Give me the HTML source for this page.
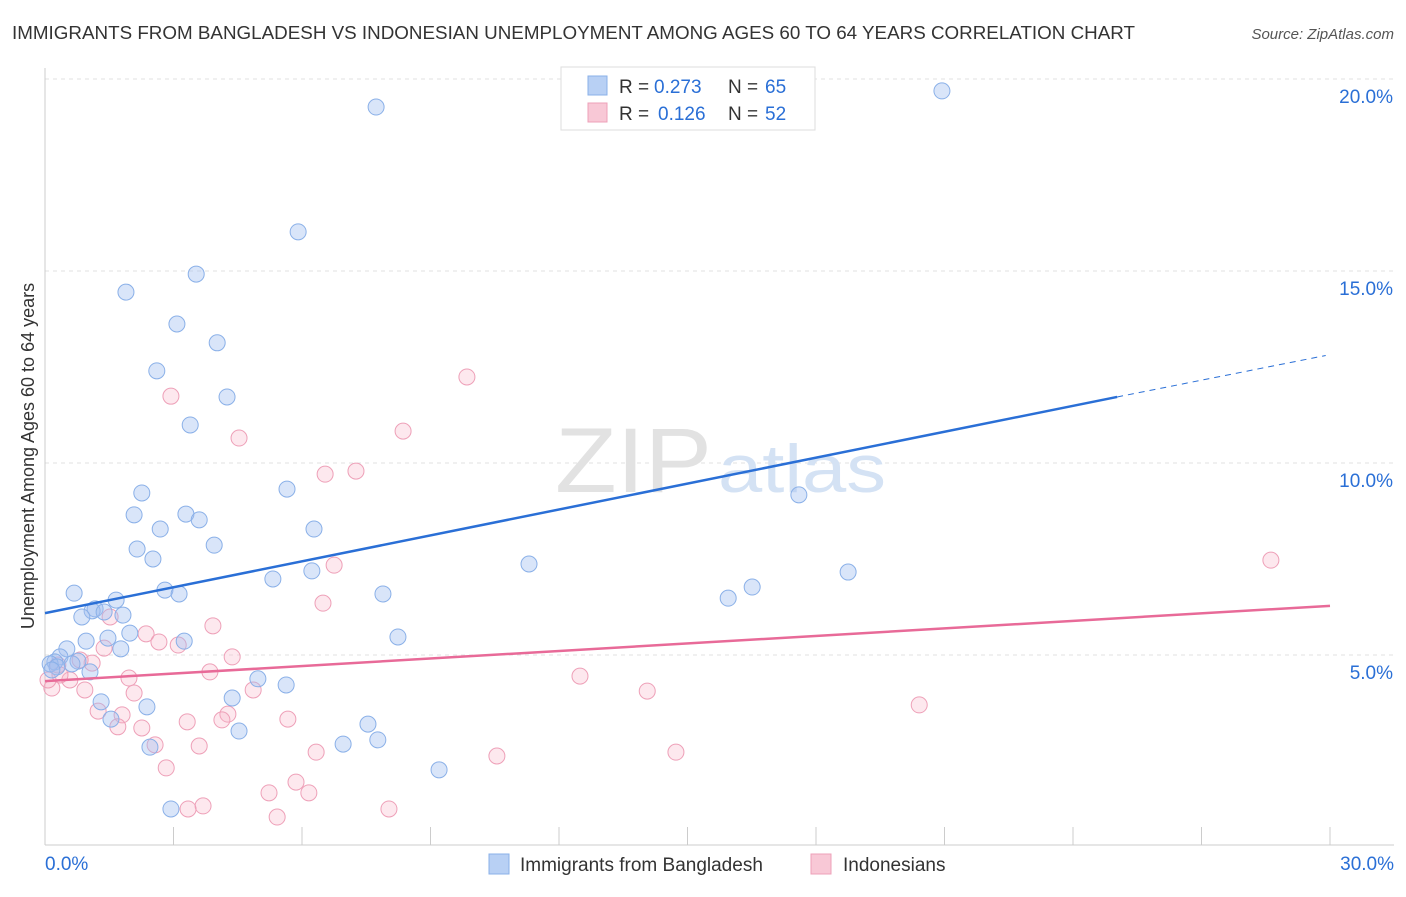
<!DOCTYPE html>
<html><head><meta charset="utf-8">
<style>
body{margin:0;background:#fff;font-family:"Liberation Sans",sans-serif;}
svg text{font-family:"Liberation Sans",sans-serif;}
</style></head>
<body>
<svg id="chart" width="1406" height="892">
<text x="12" y="39" font-size="18" fill="#333" textLength="1123" lengthAdjust="spacingAndGlyphs">IMMIGRANTS FROM BANGLADESH VS INDONESIAN UNEMPLOYMENT AMONG AGES 60 TO 64 YEARS CORRELATION CHART</text>
<text x="1394" y="39" font-size="15" fill="#555" text-anchor="end" font-style="italic">Source: ZipAtlas.com</text>
<g id="grid"></g>
<text x="555" y="492" font-size="92" fill="#e2e2e2" textLength="157" lengthAdjust="spacingAndGlyphs" font-family="Liberation Serif,serif">ZIP</text>
<text x="718" y="492" font-size="68" fill="#d4e2f4" textLength="168" lengthAdjust="spacingAndGlyphs">atlas</text>
<g id="marks"></g>
<text transform="translate(34,456) rotate(-90)" font-size="18" fill="#333" text-anchor="middle">Unemployment Among Ages 60 to 64 years</text>
<g>
<rect x="561" y="67" width="254" height="63" fill="#fff" stroke="#ddd"/>
<rect x="588" y="76" width="19" height="19" fill="#b8d0f4" stroke="#8ab0e8"/>
<rect x="588" y="103" width="19" height="19" fill="#f8c8d6" stroke="#eea0b8"/>
<text x="619" y="93" font-size="19" fill="#333">R =</text>
<text x="654" y="93" font-size="19" fill="#2a6fd6">0.273</text>
<text x="728" y="93" font-size="19" fill="#333">N =</text>
<text x="765" y="93" font-size="19" fill="#2a6fd6">65</text>
<text x="619" y="120" font-size="19" fill="#333">R =</text>
<text x="658" y="120" font-size="19" fill="#2a6fd6">0.126</text>
<text x="728" y="120" font-size="19" fill="#333">N =</text>
<text x="765" y="120" font-size="19" fill="#2a6fd6">52</text>
</g>
<g>
<rect x="489" y="854" width="20" height="20" fill="#b8d0f4" stroke="#8ab0e8"/>
<text x="520" y="871" font-size="19" fill="#333">Immigrants from Bangladesh</text>
<rect x="811" y="854" width="20" height="20" fill="#f8c8d6" stroke="#eea0b8"/>
<text x="843" y="871" font-size="19" fill="#333">Indonesians</text>
</g>
</svg>
<script>
const xTicks=[0,3,6,9,12,15,18,21,24,27,30];
const yTicks=[5,10,15,20];
const yTickLabels=["5.0%","10.0%","15.0%","20.0%"];
const xTickLabels=["0.0%","30.0%"];
const blueX=[7.73,20.94,5.91,3.53,1.89,3.08,4.02,2.61,4.25,3.39,5.65,2.26,17.60,2.08,3.29,2.69,3.60,6.28,3.95,2.15,2.52,11.30,5.32,6.23,18.75,16.51,15.95,0.68,2.80,3.13,7.89,1.66,1.17,1.10,1.38,1.82,0.86,1.98,1.47,0.96,8.24,1.77,3.25,0.51,0.35,0.23,0.12,0.77,0.63,0.28,1.05,4.97,5.63,4.37,1.31,2.38,1.54,4.53,7.54,6.96,7.77,2.45,9.20,2.94,0.16];
const blueY=[19.27,19.69,16.02,14.92,14.45,13.62,13.13,12.40,11.72,10.99,9.32,9.22,9.17,8.65,8.67,8.28,8.52,8.28,7.86,7.76,7.50,7.37,6.98,7.19,7.16,6.77,6.48,6.61,6.69,6.59,6.59,6.43,6.20,6.15,6.12,6.04,5.99,5.57,5.44,5.36,5.47,5.16,5.36,5.16,4.95,4.82,4.77,4.84,4.77,4.69,4.56,4.38,4.22,3.88,3.78,3.65,3.33,3.02,3.20,2.68,2.79,2.60,2.01,0.99,4.61];
const pinkX=[28.62,9.85,2.94,4.53,8.36,6.54,7.26,6.75,6.49,3.92,2.36,2.66,3.11,1.52,1.38,4.37,1.10,0.82,0.30,3.85,1.96,12.49,0.58,0.93,0.16,2.08,4.86,14.06,20.41,1.24,1.80,4.27,3.32,4.13,5.67,1.70,2.26,2.57,3.60,6.33,10.55,14.73,2.83,5.86,5.23,6.16,3.69,3.34,8.03,5.42,0.07,0.35];
const pinkY=[7.47,12.24,11.74,10.65,10.83,9.71,9.79,7.34,6.35,5.76,5.55,5.34,5.26,5.99,5.18,4.95,4.79,4.87,4.74,4.56,4.40,4.45,4.35,4.09,4.14,4.01,4.09,4.06,3.70,3.54,3.44,3.46,3.26,3.31,3.33,3.13,3.10,2.66,2.63,2.47,2.37,2.47,2.06,1.69,1.41,1.41,1.07,0.99,0.99,0.78,4.35,4.48];
const blueLine=[6.09,11.72,25.03];
const blueLineEnd=[30,12.8];
const pinkLine=[4.32,6.28];
const NS="http://www.w3.org/2000/svg";
const sx=v=>45+v*(1285/30);
const sy=v=>847-v*38.4;
function mk(tag,attrs,parent){const e=document.createElementNS(NS,tag);for(const k in attrs)e.setAttribute(k,attrs[k]);parent.appendChild(e);return e;}
const grid=document.getElementById('grid'),marks=document.getElementById('marks');
yTicks.forEach((t,i)=>{
 const l=mk('line',{x1:45,x2:1394,y1:sy(t),y2:sy(t),stroke:'#e2e2e2','stroke-dasharray':'4,4'},grid);
 
 
 const tx=mk('text',{x:1393,y:sy(t)+24,'font-size':19,fill:'#2a6fd6','text-anchor':'end'},grid);
 tx.textContent=yTickLabels[i];
 
 
});
const ax=mk('line',{x1:45,x2:1394,y1:845,y2:845,stroke:'#ccc'},grid);


const ay=mk('line',{x1:45,x2:45,y1:68,y2:845,stroke:'#ccc'},grid);


xTicks.forEach(t=>{
 const l=mk('line',{x1:sx(t),x2:sx(t),y1:827,y2:845,stroke:'#ccc'},grid);
 
 
});
[[0,'start',45],[30,'end',1394]].forEach((d,i)=>{
 const tx=mk('text',{x:d[2],y:870,'font-size':19,fill:'#2a6fd6','text-anchor':d[1]},grid);
 tx.textContent=xTickLabels[i];
 
 
});
pinkX.forEach((x,i)=>{
 const c=mk('circle',{cx:sx(x),cy:sy(pinkY[i]),r:8,fill:'rgba(248,180,200,0.3)',stroke:'#eea0b8','stroke-width':1},marks);
 
 
});
blueX.forEach((x,i)=>{
 const c=mk('circle',{cx:sx(x),cy:sy(blueY[i]),r:8,fill:'rgba(160,190,240,0.4)',stroke:'#8ab0e8','stroke-width':1},marks);
 
 
});
const bl=mk('line',{x1:sx(0),y1:sy(blueLine[0]),x2:sx(blueLine[2]),y2:sy(blueLine[1]),stroke:'#2a6fd6','stroke-width':2.5},marks);


const bd=mk('line',{x1:sx(blueLine[2]),y1:sy(blueLine[1]),x2:sx(blueLineEnd[0]-0.1),y2:sy(blueLineEnd[1]),stroke:'#2a6fd6','stroke-width':1,'stroke-dasharray':'6,5'},marks);


const pl=mk('line',{x1:sx(0),y1:sy(pinkLine[0]),x2:sx(30),y2:sy(pinkLine[1]),stroke:'#e86a98','stroke-width':2.5},marks);


</script>
</body></html>
